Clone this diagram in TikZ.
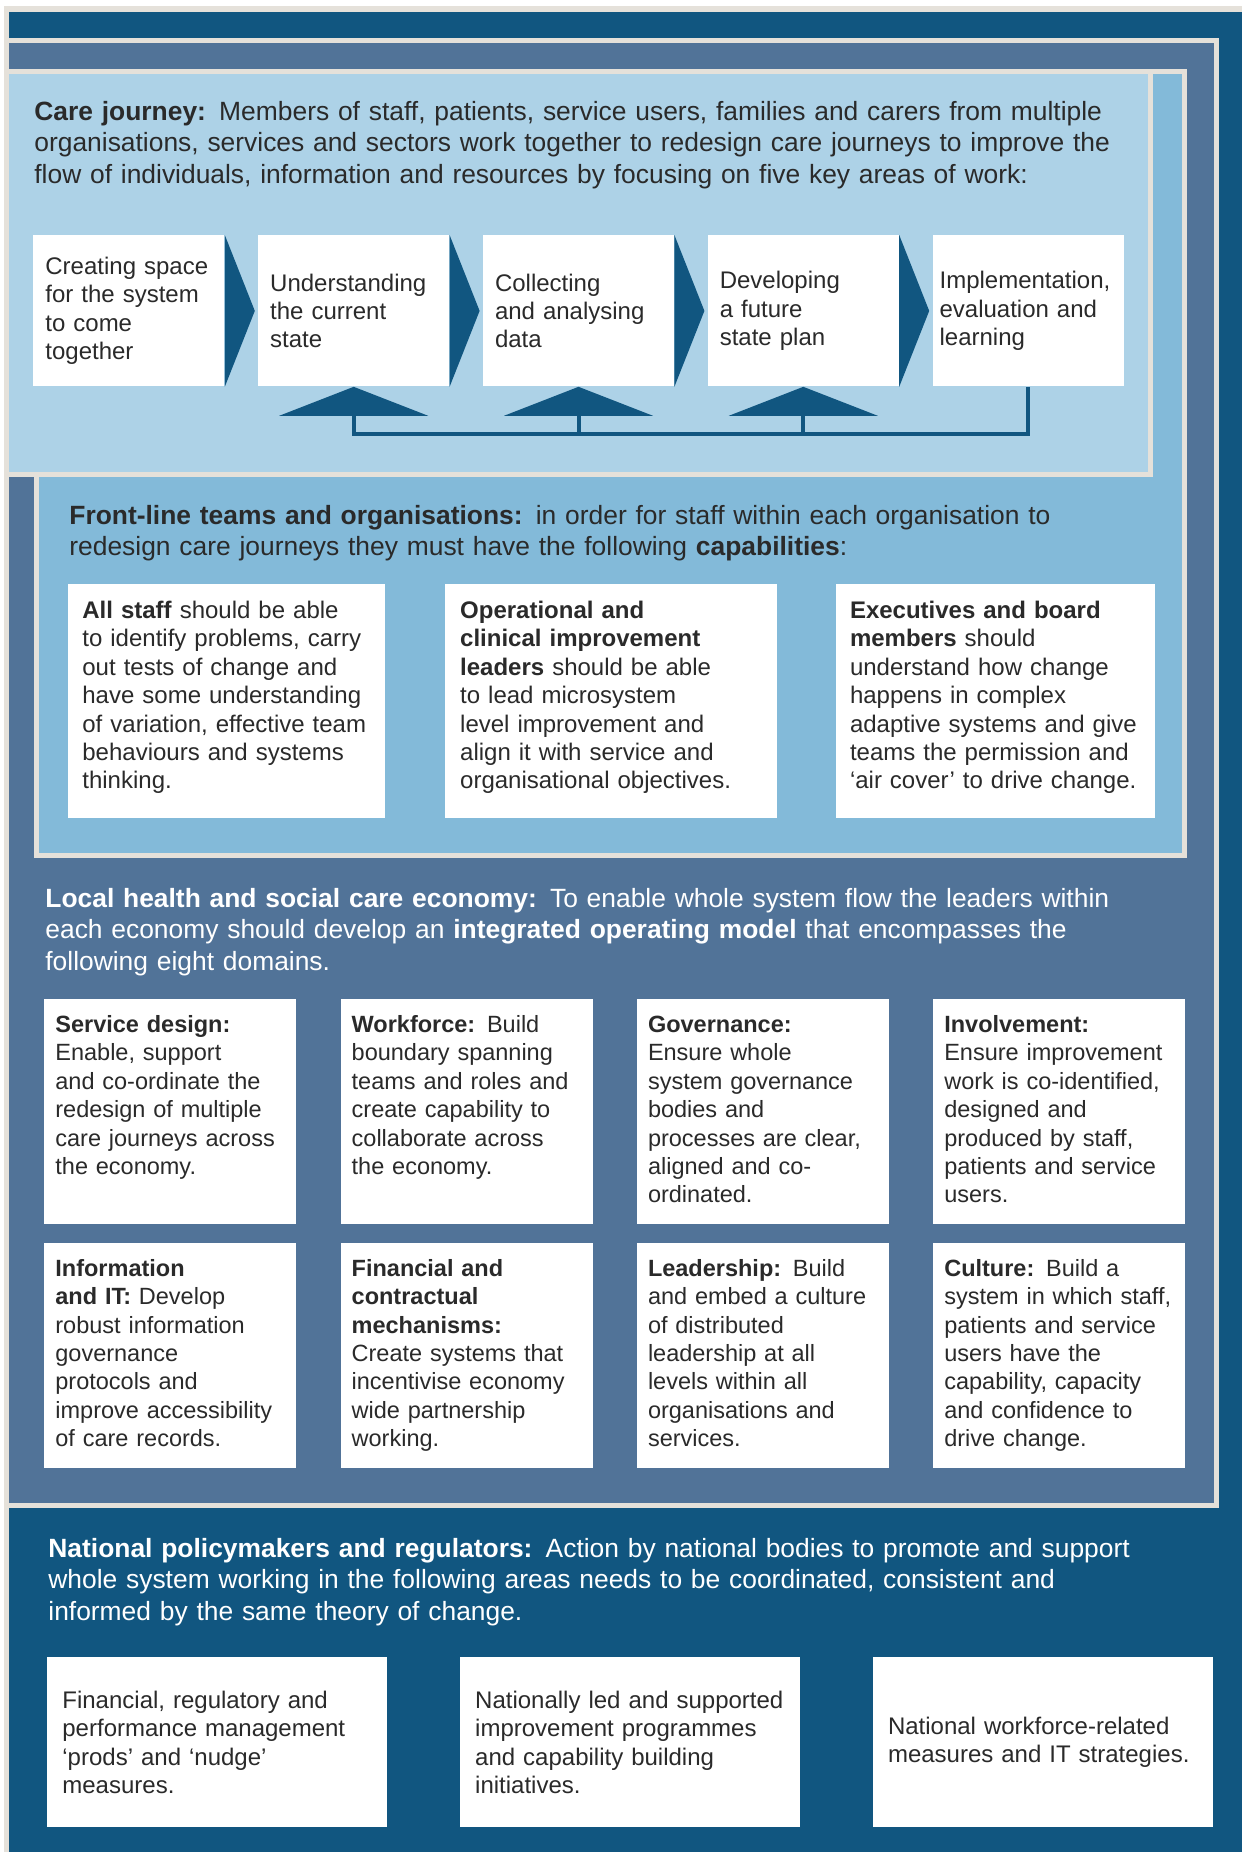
\documentclass[tikz,border=0pt]{standalone}
\usepackage{fontspec}
\setmainfont{Liberation Sans}
\usepackage{tikz}
\usepackage{xcolor}
\usetikzlibrary{positioning}

\definecolor{navy}{HTML}{115680}
\definecolor{slate}{HTML}{517398}
\definecolor{sky}{HTML}{83BAD9}
\definecolor{pale}{HTML}{ADD2E7}
\definecolor{rim}{HTML}{E5E1DA}
\definecolor{ink}{HTML}{2A2A2A}

\begin{document}
\begin{tikzpicture}
[
x=0.5pt, y=-0.5pt,
every node/.style={
	inner sep=0pt,
	align=left,
	text=ink},
panel/.style={
	draw=rim,
	line width=2.5pt},
head/.style={
	anchor=base west,
	text width=580pt,
	font=\fontsize{13.2}{15.75}\selectfont},
stepbox/.style={
	fill=white,
	minimum height=75.5pt,
	text width=83.5pt,
	inner xsep=6pt,
	font=\fontsize{12}{14.2}\selectfont},
capbox/.style={
	fill=white,
	text height=17pt,
	text depth=100pt,
	font=\fontsize{12}{14.2}\selectfont},
dombox/.style={
	fill=white,
	text width=115pt,
	inner xsep=5.5pt,
	text height=16.5pt,
	text depth=96pt,
	font=\fontsize{11.75}{14.2}\selectfont},
natbox/.style={
	fill=white,
	minimum height=85pt,
	text width=155pt,
	inner xsep=7.5pt,
	font=\fontsize{12}{14.2}\selectfont},
chev/.style={fill=navy},
loopArr/.style={
	draw=navy,
	line width=2pt}
]
\useasboundingbox (0,0) rectangle (1242,1852);

%nested panels, outermost first
\fill[white] (0,0) rectangle (1242,1852);
\fill[rim] (4,6) rectangle (1242,1852);
\fill[navy] (9,12) rectangle (1242,1852);
\draw[panel, fill=slate] (6.5,40.5) rectangle (1216.5,1505.5);
\draw[panel, fill=sky] (36.5,71.5) rectangle (1184,855);
\draw[panel, fill=pale] (6.5,71.5) rectangle (1150.5,474.5);

%care journey
\node[head] (cj) at (34,120) {\textbf{Care journey:} Members of staff, patients, service users, families and carers from multiple\\organisations, services and sectors work together to redesign care journeys to improve the\\flow of individuals, information and resources by focusing on five key areas of work:};

\node[stepbox, anchor=north west] (s1) at (33,235) {Creating space\\for the system\\to come\\together};
\node[stepbox, right=16.5pt of s1] (s2) {Understanding\\the current\\state};
\node[stepbox, right=16.5pt of s2] (s3) {Collecting\\and analysing\\data};
\node[stepbox, right=16.5pt of s3] (s4) {Developing\\a future\\state plan};
\node[stepbox, right=16.5pt of s4, text width=88.5pt, inner xsep=3.5pt] (s5) {Implementation,\\evaluation and\\learning};

%chevrons between the steps
\fill[chev] (s1.north east) -- ([xshift=15pt]s1.east) -- (s1.south east) -- cycle;
\fill[chev] (s2.north east) -- ([xshift=15pt]s2.east) -- (s2.south east) -- cycle;
\fill[chev] (s3.north east) -- ([xshift=15pt]s3.east) -- (s3.south east) -- cycle;
\fill[chev] (s4.north east) -- ([xshift=15pt]s4.east) -- (s4.south east) -- cycle;

%feedback loop back into steps 2-4
\fill[chev] (s2.south) -- ++(-74.5,29) -- ++(149,0) -- cycle;
\fill[chev] (s3.south) -- ++(-74.5,29) -- ++(149,0) -- cycle;
\fill[chev] (s4.south) -- ++(-74.5,29) -- ++(149,0) -- cycle;
\coordinate (f2) at ([yshift=-14.5pt]s2.south);
\coordinate (f3) at ([yshift=-14.5pt]s3.south);
\coordinate (f4) at ([yshift=-14.5pt]s4.south);
\draw[loopArr] (s5.south) -- ++(0,47) -| (f2);
\draw[loopArr] (f3) -- ++(0,18);
\draw[loopArr] (f4) -- ++(0,18);

%front-line teams
\node[head] (fl) at (69,524) {\textbf{Front-line teams and organisations:} in order for staff within each organisation to\\redesign care journeys they must have the following \textbf{capabilities}:};

\node[capbox, anchor=north west, text width=144.5pt, inner xsep=7pt] (allstaff) at (68,584) {\textbf{All staff} should be able\\to identify problems, carry\\out tests of change and\\have some understanding\\of variation, effective team\\behaviours and systems\\thinking.};
\node[capbox, right=29.5pt of allstaff, text width=151pt, inner xsep=7.5pt] (leaders) {\textbf{Operational and}\\\textbf{clinical improvement}\\\textbf{leaders} should be able\\to lead microsystem\\level improvement and\\align it with service and\\organisational objectives.};
\node[capbox, right=29pt of leaders, text width=145.5pt, inner xsep=7pt] (board) {\textbf{Executives and board}\\\textbf{members} should\\understand how change\\happens in complex\\adaptive systems and give\\teams the permission and\\‘air cover’ to drive change.};

%local economy
\node[head, text=white] (lhe) at (45,907) {\textbf{Local health and social care economy:} To enable whole system flow the leaders within\\each economy should develop an \textbf{integrated operating model} that encompasses the\\following eight domains.};

\node[dombox, anchor=north west] (design) at (44,999) {\textbf{Service design:}\\Enable, support\\and co-ordinate the\\redesign of multiple\\care journeys across\\the economy.};
\node[dombox, right=21.75pt of design] (workforce) {\textbf{Workforce:} Build\\boundary spanning\\teams and roles and\\create capability to\\collaborate across\\the economy.};
\node[dombox, right=21.75pt of workforce] (governance) {\textbf{Governance:}\\Ensure whole\\system governance\\bodies and\\processes are clear,\\aligned and co-\\ordinated.};
\node[dombox, right=21.75pt of governance] (involve) {\textbf{Involvement:}\\Ensure improvement\\work is co-identified,\\designed and\\produced by staff,\\patients and service\\users.};

\node[dombox, below=9pt of design] (infoit) {\textbf{Information}\\\textbf{and IT:} Develop\\robust information\\governance\\protocols and\\improve accessibility\\of care records.};
\node[dombox, right=21.75pt of infoit] (finance) {\textbf{Financial and}\\\textbf{contractual}\\\textbf{mechanisms:}\\Create systems that\\incentivise economy\\wide partnership\\working.};
\node[dombox, right=21.75pt of finance] (leadership) {\textbf{Leadership:} Build\\and embed a culture\\of distributed\\leadership at all\\levels within all\\organisations and\\services.};
\node[dombox, right=21.75pt of leadership] (culture) {\textbf{Culture:} Build a\\system in which staff,\\patients and service\\users have the\\capability, capacity\\and confidence to\\drive change.};

%national level
\node[head, text=white] (nat) at (48,1557) {\textbf{National policymakers and regulators:} Action by national bodies to promote and support\\whole system working in the following areas needs to be coordinated, consistent and\\informed by the same theory of change.};

\node[natbox, anchor=north west] (prods) at (47,1657) {Financial, regulatory and\\performance management\\‘prods’ and ‘nudge’\\measures.};
\node[natbox, right=36pt of prods] (progs) {Nationally led and supported\\improvement programmes\\and capability building\\initiatives.};
\node[natbox, right=36pt of progs] (itstrat) {National workforce-related\\measures and IT strategies.};

\end{tikzpicture}
\end{document}
